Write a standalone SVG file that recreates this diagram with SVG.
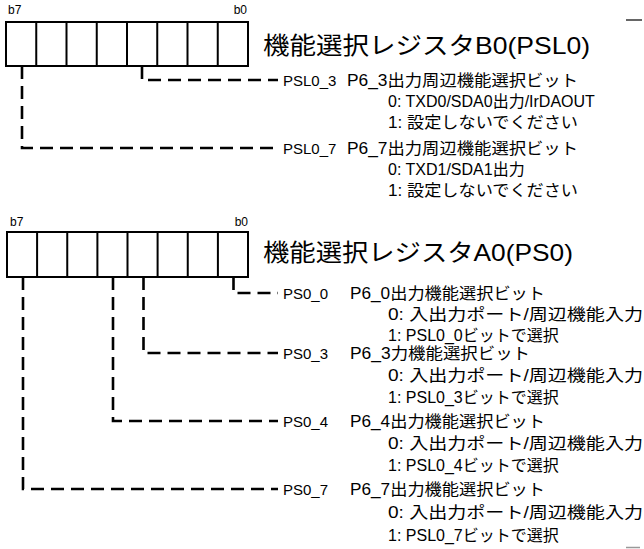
<svg xmlns="http://www.w3.org/2000/svg" width="644" height="549" viewBox="0 0 644 549">
<style>
.t{font-family:"Liberation Sans","Noto Sans CJK JP",sans-serif;font-size:16px;fill:#000}
.l{font-family:"Liberation Sans",sans-serif;font-size:15px;fill:#000}
.s{font-family:"Liberation Sans",sans-serif;font-size:12px;fill:#000}
.h{font-family:"Liberation Sans","Noto Sans CJK JP",sans-serif;font-size:24px;fill:#000}
.box{fill:#fff;stroke:#000;stroke-width:2}
.cell{stroke:#000;stroke-width:2}
.c{fill:none;stroke:#000;stroke-width:2.6;stroke-dasharray:13 7}
</style>
<rect width="644" height="549" fill="#fff"/>
<g id="regB0">
<text class="s" x="8" y="14">b7</text>
<text class="s" x="247" y="14" text-anchor="end">b0</text>
<rect class="box" x="6" y="22" width="242" height="44"/>
<path class="cell" d="M36.25,22V66M66.5,22V66M96.75,22V66M127,22V66M157.25,22V66M187.5,22V66M217.75,22V66"/>
<text class="h" x="263" y="54" textLength="327" lengthAdjust="spacingAndGlyphs">機能選択レジスタB0(PSL0)</text>
</g>
<g id="psl0_3">
<text class="l" x="283" y="86">PSL0_3</text>
<text class="t" x="347" y="86" textLength="231" lengthAdjust="spacingAndGlyphs">P6_3出力周辺機能選択ビット</text>
<text class="t" x="388" y="107">0: TXD0/SDA0出力/IrDAOUT</text>
<text class="t" x="388" y="128" textLength="190" lengthAdjust="spacingAndGlyphs">1: 設定しないでください</text>
</g>
<g id="psl0_7">
<text class="l" x="283" y="154">PSL0_7</text>
<text class="t" x="347" y="154" textLength="231" lengthAdjust="spacingAndGlyphs">P6_7出力周辺機能選択ビット</text>
<text class="t" x="388" y="175">0: TXD1/SDA1出力</text>
<text class="t" x="388" y="196" textLength="190" lengthAdjust="spacingAndGlyphs">1: 設定しないでください</text>
</g>
<g id="regA0">
<text class="s" x="10" y="226">b7</text>
<text class="s" x="248" y="226" text-anchor="end">b0</text>
<rect class="box" x="7" y="232" width="241" height="45"/>
<path class="cell" d="M37.1,232V277M67.25,232V277M97.4,232V277M127.5,232V277M157.6,232V277M187.75,232V277M217.9,232V277"/>
<text class="h" x="263" y="261" textLength="310" lengthAdjust="spacingAndGlyphs">機能選択レジスタA0(PS0)</text>
</g>
<g id="ps0_0">
<text class="l" x="283" y="299">PS0_0</text>
<text class="t" x="350" y="299" textLength="195" lengthAdjust="spacingAndGlyphs">P6_0出力機能選択ビット</text>
<text class="t" x="388" y="320" textLength="255" lengthAdjust="spacingAndGlyphs">0: 入出力ポート/周辺機能入力</text>
<text class="t" x="388" y="341">1: PSL0_0ビットで選択</text>
</g>
<g id="ps0_3">
<text class="l" x="283" y="359">PS0_3</text>
<text class="t" x="350" y="359" textLength="180" lengthAdjust="spacingAndGlyphs">P6_3力機能選択ビット</text>
<text class="t" x="388" y="381" textLength="255" lengthAdjust="spacingAndGlyphs">0: 入出力ポート/周辺機能入力</text>
<text class="t" x="388" y="403">1: PSL0_3ビットで選択</text>
</g>
<g id="ps0_4">
<text class="l" x="283" y="427">PS0_4</text>
<text class="t" x="350" y="427" textLength="195" lengthAdjust="spacingAndGlyphs">P6_4出力機能選択ビット</text>
<text class="t" x="388" y="449" textLength="255" lengthAdjust="spacingAndGlyphs">0: 入出力ポート/周辺機能入力</text>
<text class="t" x="388" y="471">1: PSL0_4ビットで選択</text>
</g>
<g id="ps0_7">
<text class="l" x="283" y="495">PS0_7</text>
<text class="t" x="350" y="495" textLength="195" lengthAdjust="spacingAndGlyphs">P6_7出力機能選択ビット</text>
<text class="t" x="388" y="518" textLength="255" lengthAdjust="spacingAndGlyphs">0: 入出力ポート/周辺機能入力</text>
<text class="t" x="388" y="541">1: PSL0_7ビットで選択</text>
</g>
<g id="connectors">
<path class="c" d="M142,66V80H278"/>
<path class="c" d="M22,66V148H278"/>
<path class="c" d="M233.5,277V293H278"/>
<path class="c" d="M143.5,277V353H278"/>
<path class="c" d="M113,277V421H278"/>
<path class="c" d="M23,277V489H278"/>
</g>
<g id="edge-marks">
<path d="M626,20H642" stroke="#333" stroke-width="1.5"/>
<path d="M626,547.5H640" stroke="#999" stroke-width="1.5"/>
</g>
</svg>
